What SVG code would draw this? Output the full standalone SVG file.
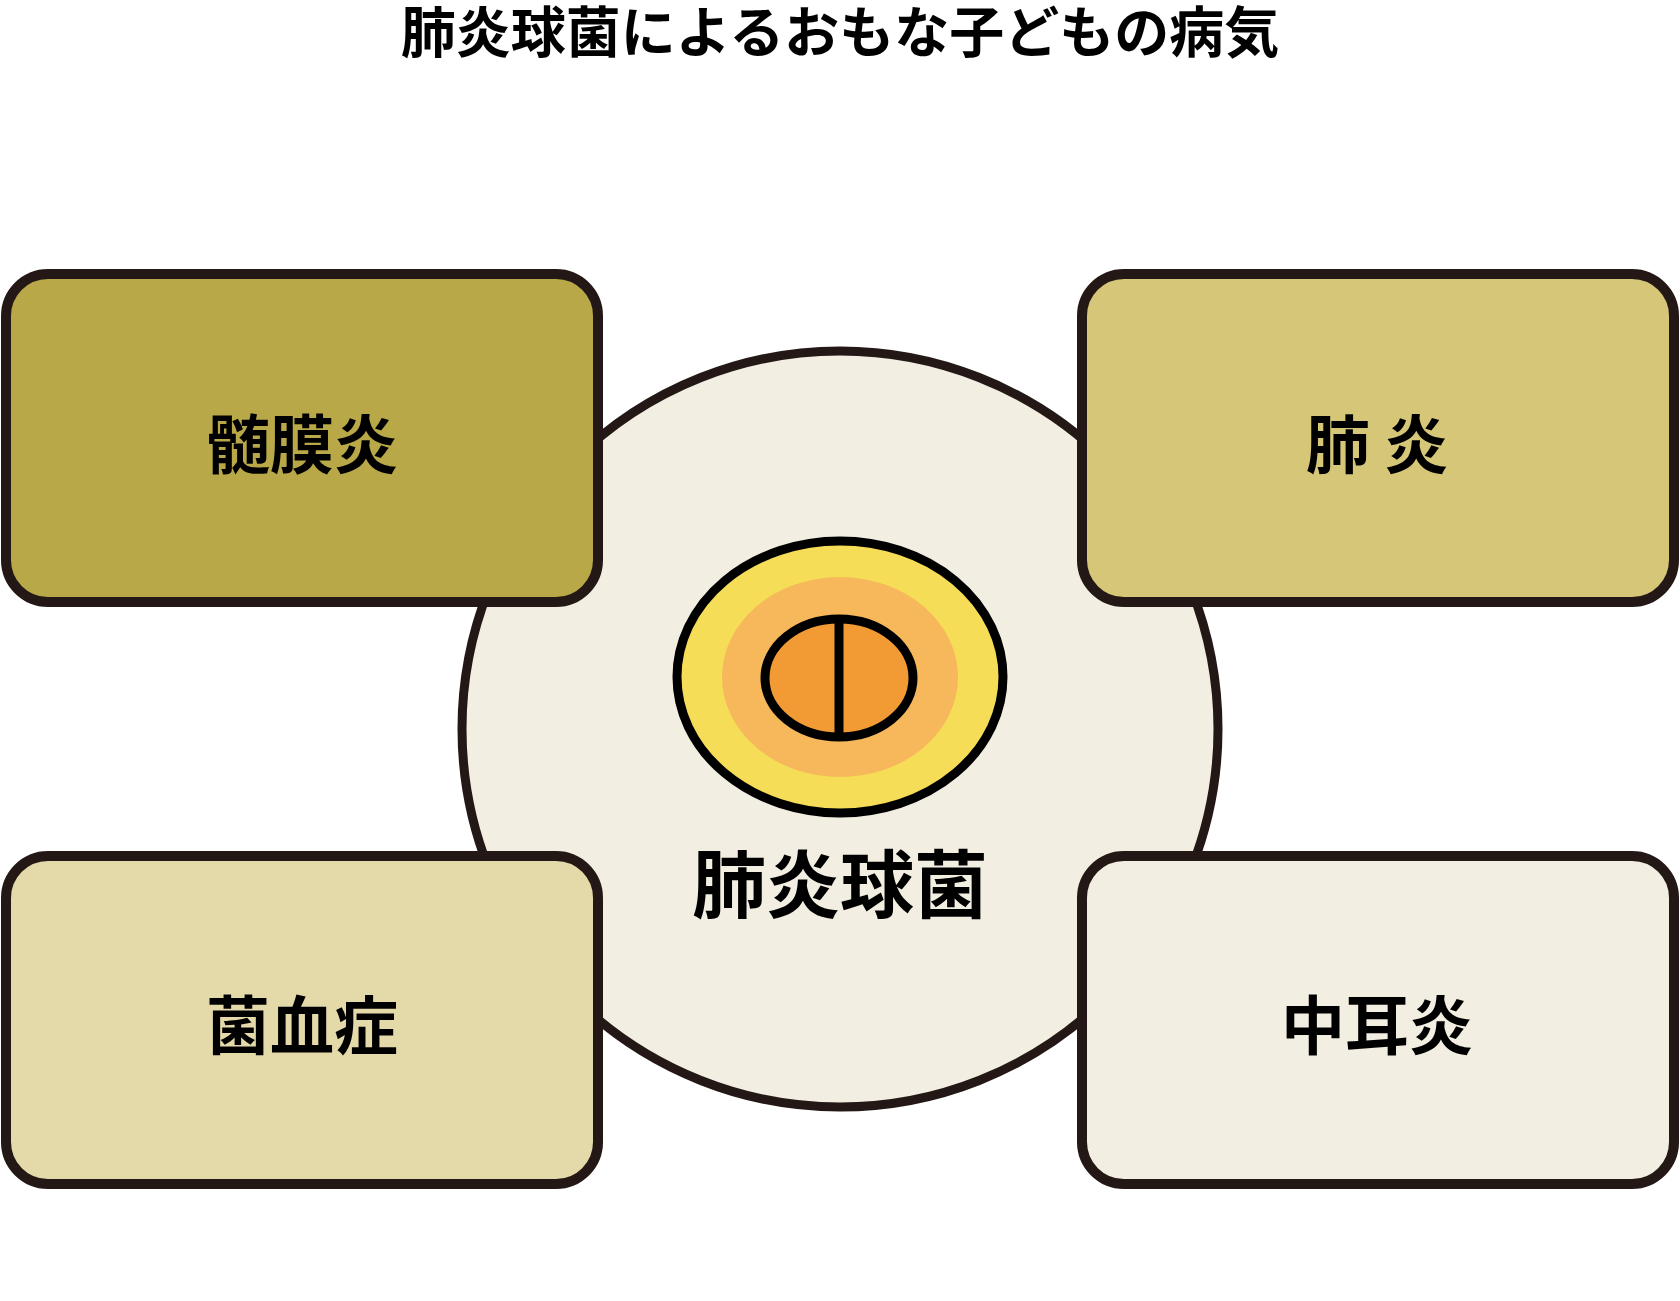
<svg xmlns="http://www.w3.org/2000/svg" width="1680" height="1301" viewBox="0 0 1680 1301">
<style>
.box{stroke:#231815;stroke-width:10}
.t{font-family:"Noto Sans CJK JP",sans-serif;font-weight:bold;fill:#000;text-anchor:middle}
.bl{stroke:#000;stroke-width:9}
</style>
<rect width="1680" height="1301" fill="#fff"/>
<text class="t" x="840" y="52" font-size="55">肺炎球菌によるおもな子どもの病気</text>
<g id="center">
<circle cx="840" cy="729" r="378" fill="#f2eee2" stroke="#231815" stroke-width="9"/>
<ellipse cx="840" cy="677" rx="163" ry="136" fill="#f6dd58" class="bl"/>
<ellipse cx="840" cy="677" rx="118" ry="100" fill="#f6b85a"/>
<ellipse cx="839" cy="678" rx="74" ry="59" fill="#f29b35" class="bl"/>
<line x1="839" y1="618" x2="839" y2="738" class="bl"/>
<text class="t" x="840" y="912" font-size="74">肺炎球菌</text>
</g>
<g id="tl"><rect class="box" x="6" y="274" width="592" height="328" rx="42" fill="#b9a848"/>
<text class="t" x="302" y="468" font-size="64">髄膜炎</text></g>
<g id="tr"><rect class="box" x="1082" y="274" width="592" height="328" rx="42" fill="#d6c677"/>
<text class="t" x="1377" y="468" font-size="64">肺 炎</text></g>
<g id="bl"><rect class="box" x="6" y="856" width="592" height="328" rx="42" fill="#e3d9a9"/>
<text class="t" x="302" y="1049" font-size="64">菌血症</text></g>
<g id="br"><rect class="box" x="1082" y="856" width="592" height="328" rx="42" fill="#f3eee2"/>
<text class="t" x="1377" y="1049" font-size="64">中耳炎</text></g>
<g id="connectors"/>
</svg>
